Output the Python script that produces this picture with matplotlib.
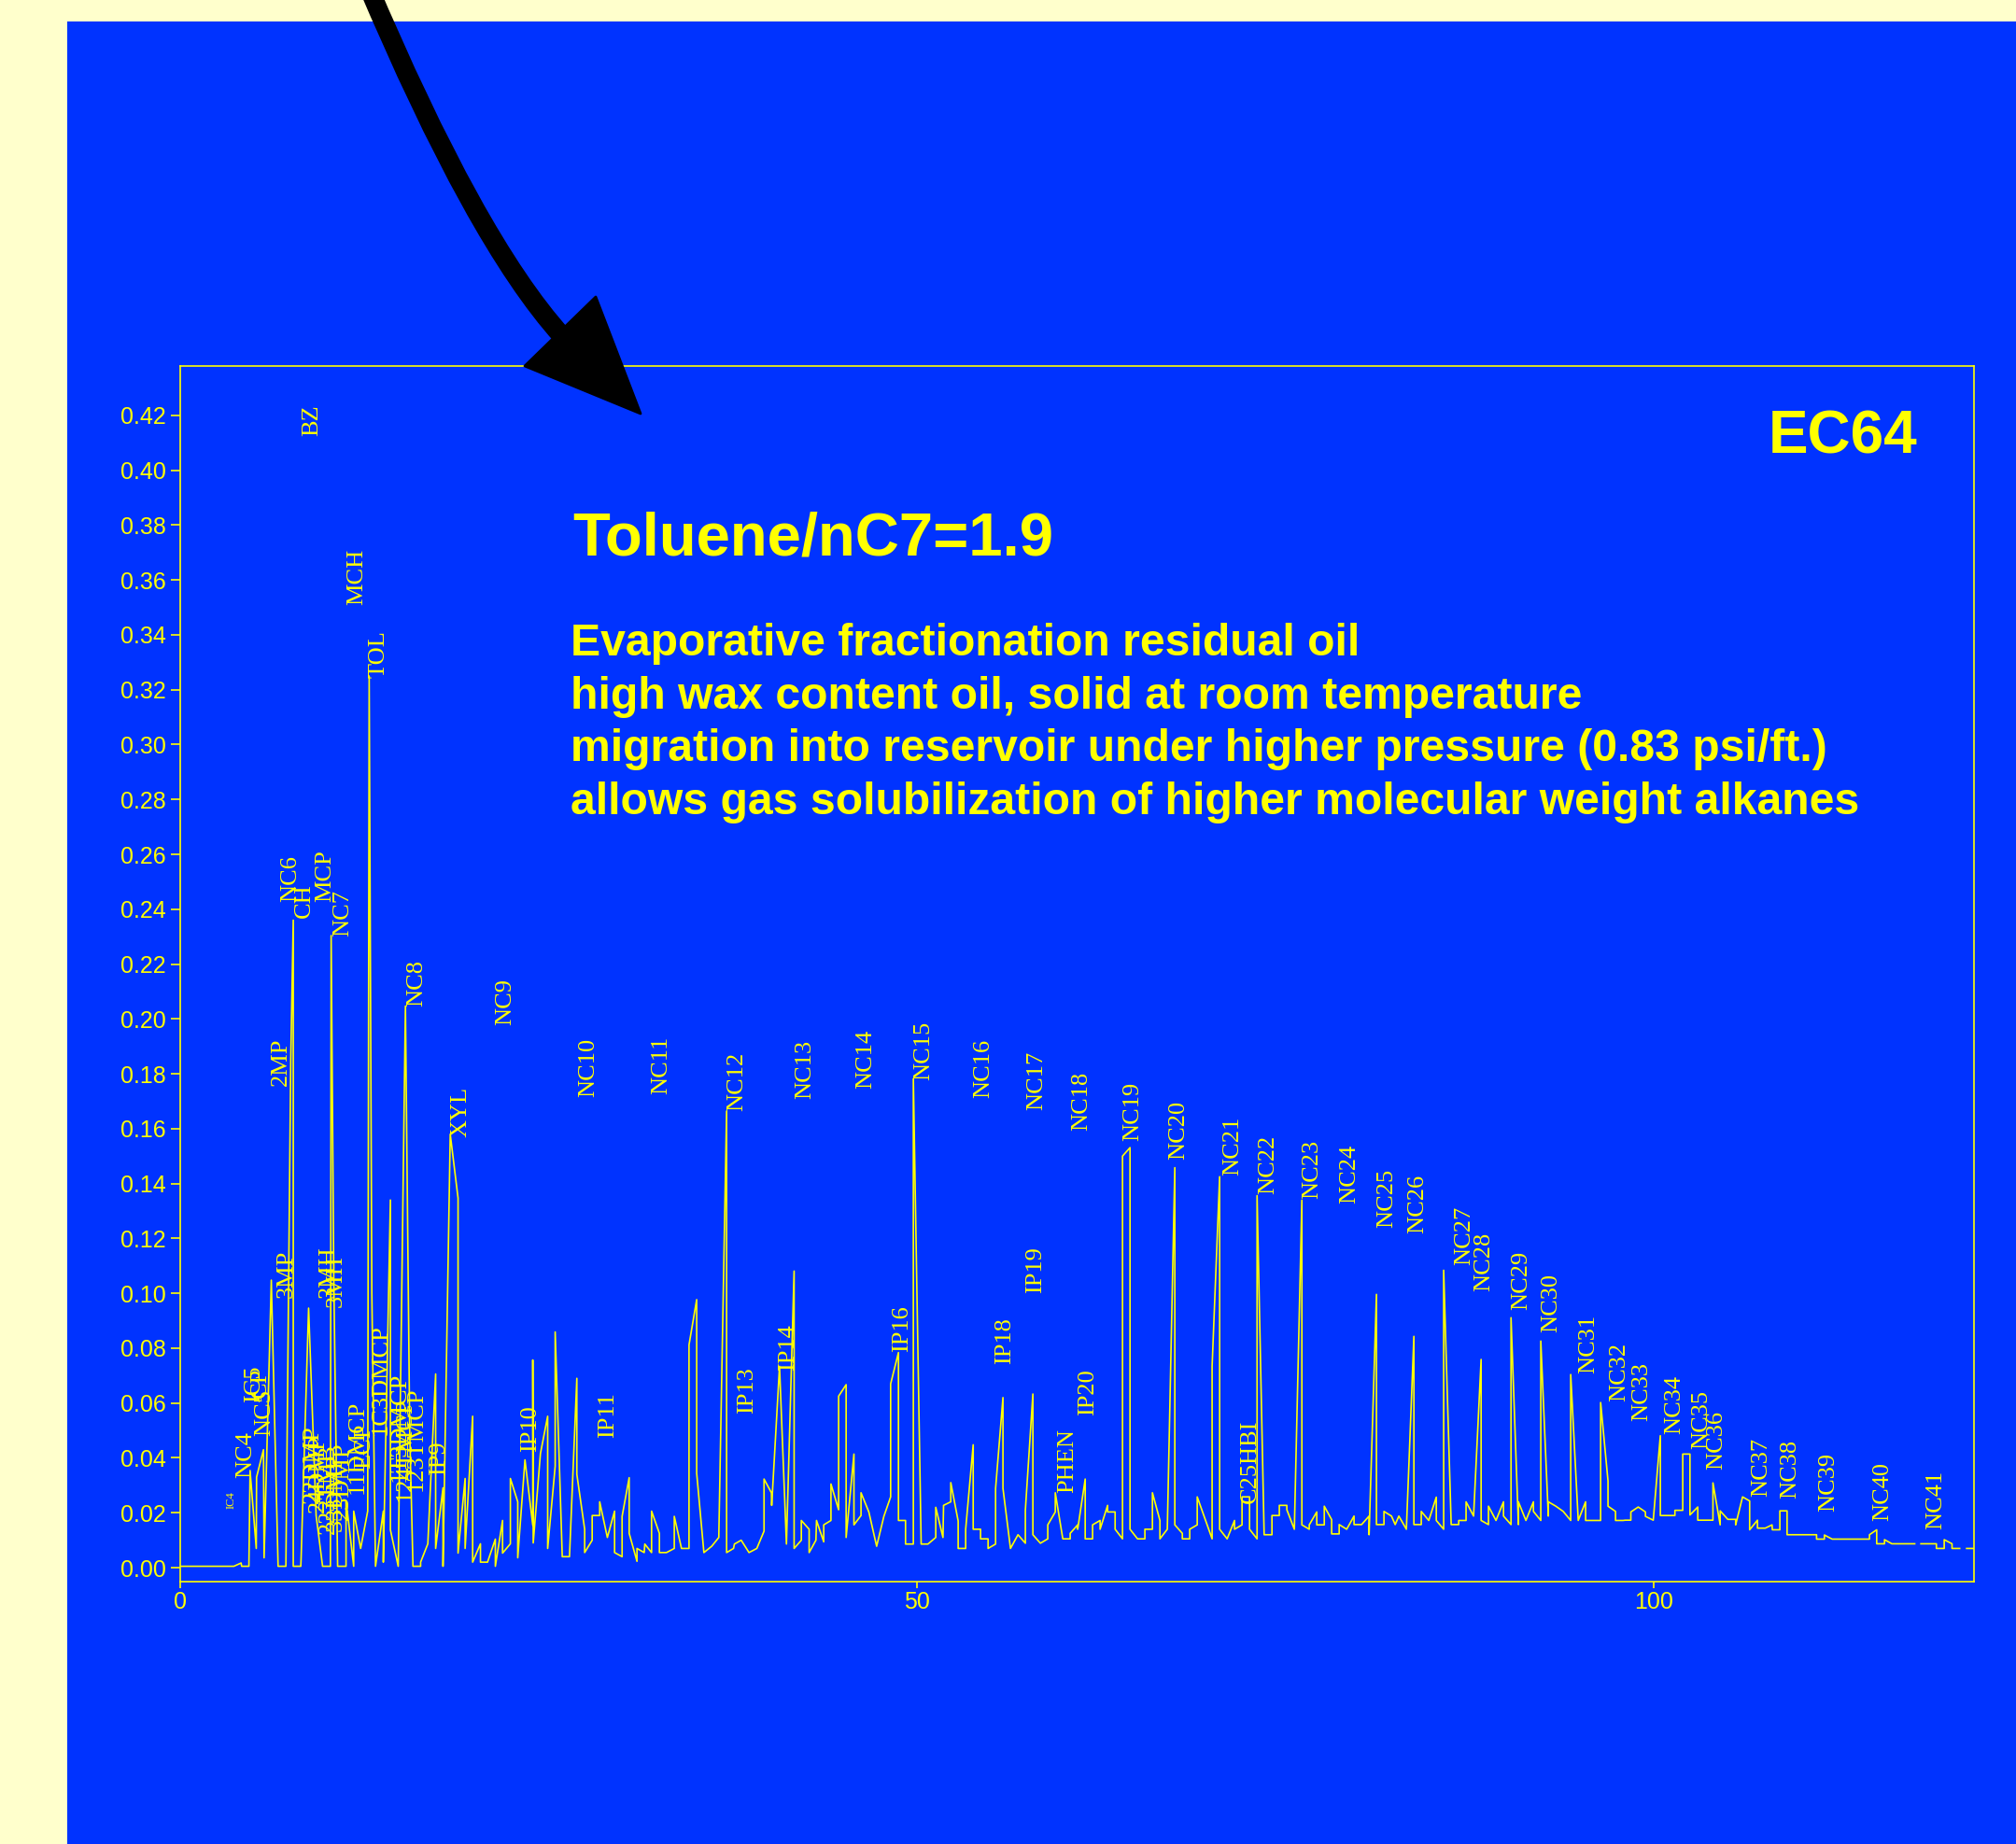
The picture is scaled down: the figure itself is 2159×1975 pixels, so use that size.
import numpy as np
import matplotlib
matplotlib.use("Agg")
import matplotlib.pyplot as plt
from matplotlib.patches import Rectangle, PathPatch, Polygon
from matplotlib.path import Path
from matplotlib.ticker import FormatStrFormatter

# chromatogram trace (retention time, relative abundance); nan = gap in the trace
trace_x = [
    0.0, 3.64, 4.13, 4.17, 4.66, 4.74, 5.16, 5.18, 5.65, 5.69, 6.18, 6.64, 7.17, 7.50, 7.67, 7.67,
    8.18, 8.20, 8.71, 9.22, 9.66, 10.19, 10.24, 10.42, 10.68, 11.25, 11.25, 11.35, 11.77, 11.77,
    12.24, 12.72, 12.82, 13.00, 13.25, 13.78, 13.78, 14.26, 14.26, 14.79, 15.28, 15.57, 15.79,
    16.31, 16.31, 16.80, 17.33, 17.33, 17.83, 17.83, 18.32, 18.85, 18.85, 19.33, 19.33, 19.84,
    19.84, 20.37, 20.37, 20.85, 21.38, 21.38, 21.87, 21.87, 22.40, 22.40, 22.90, 22.90, 23.39,
    23.92, 23.92, 23.95, 24.44, 24.93, 24.93, 25.44, 25.44, 25.92, 26.41, 26.91, 26.91, 27.44,
    27.44, 27.95, 27.95, 28.46, 28.46, 28.98, 29.47, 29.47, 29.98, 29.98, 30.46, 30.46, 30.99,
    30.99, 31.48, 31.52, 31.98, 31.98, 32.51, 32.51, 32.99, 33.52, 33.52, 34.01, 34.52, 34.52,
    35.04, 35.04, 35.53, 36.06, 36.54, 37.07, 37.07, 37.54, 37.60, 38.06, 38.59, 39.12, 39.61,
    39.61, 40.11, 40.13, 40.66, 41.13, 41.65, 41.65, 42.14, 42.14, 42.67, 42.67, 43.13, 43.17,
    43.66, 43.66, 44.15, 44.15, 44.67, 44.67, 45.18, 45.18, 45.71, 45.71, 46.19, 46.19, 46.72,
    47.25, 47.74, 48.20, 48.20, 48.73, 48.73, 49.21, 49.21, 49.74, 49.74, 50.27, 50.73, 51.26,
    51.26, 51.75, 51.79, 52.28, 52.28, 52.78, 52.78, 53.29, 53.29, 53.80, 53.80, 54.30, 54.30,
    54.81, 54.81, 55.32, 55.32, 55.82, 55.82, 56.33, 56.84, 57.34, 57.34, 57.85, 57.85, 58.36,
    58.86, 58.86, 59.37, 59.37, 59.88, 60.38, 60.38, 60.89, 60.89, 61.40, 61.40, 61.90, 61.90,
    62.41, 62.41, 62.92, 62.92, 63.43, 63.43, 63.93, 63.93, 64.44, 64.44, 64.95, 65.45, 65.45,
    65.96, 65.96, 66.47, 66.47, 66.97, 67.48, 67.48, 67.99, 67.99, 68.49, 68.49, 69.00, 69.00,
    70.01, 70.01, 70.52, 70.52, 71.03, 71.53, 71.53, 72.04, 72.04, 72.55, 72.55, 73.06, 73.06,
    73.54, 74.07, 74.07, 74.57, 74.57, 75.08, 75.08, 75.59, 76.10, 76.10, 76.60, 76.60, 77.11,
    77.11, 77.62, 77.62, 78.12, 78.12, 78.63, 78.63, 79.14, 79.64, 79.64, 80.15, 80.66, 80.66,
    81.16, 81.16, 81.67, 81.67, 82.18, 82.43, 82.68, 83.19, 83.70, 83.70, 84.20, 84.20, 84.71,
    85.22, 85.22, 85.72, 85.72, 86.23, 86.74, 86.74, 87.24, 87.24, 87.75, 88.26, 88.26, 88.76,
    88.76, 89.27, 89.78, 89.78, 90.29, 90.29, 90.79, 90.79, 91.30, 91.81, 91.81, 92.31, 92.31,
    92.82, 92.82, 93.33, 93.83, 94.34, 94.34, 94.85, 95.35, 95.35, 95.86, 96.37, 96.37, 96.87,
    96.87, 97.38, 97.38, 97.89, 98.04, 98.42, 98.42, 98.92, 99.41, 99.41, 99.94, 100.42, 100.42,
    101.41, 101.41, 101.94, 101.94, 102.43, 102.43, 102.96, 102.96, 103.48, 103.99, 103.99,
    104.48, 104.48, 105.00, 105.53, 105.53, 106.00, 106.48, 106.48, 107.01, 107.01, 107.54,
    108.00, 108.02, 108.53, 108.53, 109.02, 109.02, 111.02, 111.02, 111.55, 111.55, 112.08,
    114.61, 114.61, 115.10, 115.10, 115.63, 115.63, 116.13, 117.68, np.nan, 118.10, 119.15,
    119.15, 119.68, 119.68, 120.21, 120.21, 120.73, np.nan, 121.20, 121.73,
]
trace_y = [
    0.0005, 0.0005, 0.0017, 0.0005, 0.0005, 0.0354, 0.0070, 0.0330, 0.0430, 0.0036, 0.1048, 0.0005,
    0.0005, 0.1850, 0.2360, 0.0005, 0.0005, 0.0030, 0.0946, 0.0190, 0.0005, 0.0005, 0.2304, 0.1050,
    0.0005, 0.0005, 0.0240, 0.0200, 0.0005, 0.0206, 0.0070, 0.0206, 0.3250, 0.1000, 0.0005, 0.0206,
    0.0020, 0.1340, 0.0138, 0.0005, 0.2047, 0.0500, 0.0005, 0.0005, 0.0020, 0.0087, 0.0706, 0.0070,
    0.0291, 0.0005, 0.1580, 0.1347, 0.0053, 0.0325, 0.0070, 0.0552, 0.0020, 0.0087, 0.0020, 0.0020,
    0.0104, 0.0005, 0.0172, 0.0053, 0.0087, 0.0325, 0.0240, 0.0036, 0.0393, 0.0155, 0.0757, 0.0090,
    0.0416, 0.0552, 0.0070, 0.0370, 0.0859, 0.0040, 0.0040, 0.0690, 0.0340, 0.0140, 0.0055, 0.0100,
    0.0190, 0.0190, 0.0240, 0.0110, 0.0206, 0.0055, 0.0040, 0.0187, 0.0328, 0.0125, 0.0023, 0.0070,
    0.0055, 0.0086, 0.0055, 0.0206, 0.0125, 0.0055, 0.0055, 0.0070, 0.0187, 0.0070, 0.0070, 0.0812,
    0.0977, 0.0344, 0.0055, 0.0078, 0.0110, 0.1664, 0.0055, 0.0070, 0.0086, 0.0100, 0.0055, 0.0070,
    0.0133, 0.0323, 0.0273, 0.0227, 0.0734, 0.0086, 0.1081, 0.0070, 0.0100, 0.0172, 0.0140, 0.0055,
    0.0100, 0.0172, 0.0094, 0.0156, 0.0172, 0.0305, 0.0211, 0.0625, 0.0667, 0.0110, 0.0414, 0.0156,
    0.0190, 0.0273, 0.0203, 0.0078, 0.0187, 0.0258, 0.0670, 0.0784, 0.0172, 0.0172, 0.0086, 0.0086,
    0.1782, 0.0086, 0.0086, 0.0110, 0.0220, 0.0110, 0.0227, 0.0240, 0.0310, 0.0170, 0.0070, 0.0070,
    0.0140, 0.0448, 0.0140, 0.0140, 0.0105, 0.0105, 0.0070, 0.0086, 0.0289, 0.0620, 0.0289, 0.0070,
    0.0120, 0.0089, 0.0210, 0.0633, 0.0120, 0.0089, 0.0105, 0.0156, 0.0203, 0.0273, 0.0105, 0.0105,
    0.0125, 0.0156, 0.0140, 0.0323, 0.0105, 0.0105, 0.0156, 0.0172, 0.0140, 0.0227, 0.0203, 0.0203,
    0.0140, 0.0105, 0.1500, 0.1531, 0.0140, 0.0105, 0.0105, 0.0140, 0.0140, 0.0273, 0.0172, 0.0105,
    0.0140, 0.1458, 0.0156, 0.0125, 0.0105, 0.0105, 0.0140, 0.0156, 0.0258, 0.0105, 0.0734, 0.1425,
    0.0140, 0.0105, 0.0172, 0.0140, 0.0156, 0.0258, 0.0258, 0.0140, 0.0105, 0.1356, 0.0120, 0.0120,
    0.0190, 0.0190, 0.0227, 0.0227, 0.0211, 0.0140, 0.1339, 0.0156, 0.0140, 0.0156, 0.0203, 0.0156,
    0.0156, 0.0224, 0.0175, 0.0123, 0.0123, 0.0157, 0.0140, 0.0188, 0.0157, 0.0157, 0.0188, 0.0120,
    0.0996, 0.0157, 0.0157, 0.0205, 0.0188, 0.0157, 0.0188, 0.0140, 0.0843, 0.0157, 0.0157, 0.0205,
    0.0172, 0.0257, 0.0172, 0.0140, 0.1084, 0.0157, 0.0157, 0.0172, 0.0172, 0.0240, 0.0188, 0.0759,
    0.0172, 0.0157, 0.0224, 0.0172, 0.0240, 0.0188, 0.0157, 0.0911, 0.0157, 0.0240, 0.0172, 0.0240,
    0.0205, 0.0172, 0.0826, 0.0188, 0.0240, 0.0224, 0.0205, 0.0172, 0.0704, 0.0172, 0.0240, 0.0172,
    0.0172, 0.0172, 0.0602, 0.0316, 0.0224, 0.0205, 0.0172, 0.0172, 0.0173, 0.0173, 0.0203, 0.0221,
    0.0203, 0.0187, 0.0173, 0.0481, 0.0190, 0.0190, 0.0209, 0.0209, 0.0414, 0.0414, 0.0192, 0.0221,
    0.0173, 0.0173, 0.0173, 0.0309, 0.0156, 0.0207, 0.0176, 0.0176, 0.0156, 0.0258, 0.0243, 0.0138,
    0.0173, 0.0144, 0.0144, 0.0156, 0.0138, 0.0138, 0.0207, 0.0207, 0.0120, 0.0120, 0.0104, 0.0104,
    0.0119, 0.0104, 0.0104, 0.0120, 0.0138, 0.0087, 0.0087, 0.0102, 0.0087, 0.0087, np.nan, 0.0087,
    0.0087, 0.0070, 0.0070, 0.0102, 0.0087, 0.0070, 0.0070, np.nan, 0.0070, 0.0070,
]

# peak labels
peak_names = [
    "IC4", "NC4", "IC5", "CP", "NC5", "2MP", "3MP", "NC6", "CH", "BZ", "MCP", "22DMP", "24DMP",
    "223TMB", "3MH", "3MH", "33DMP", "23DMP", "NC7", "MCH", "11DMCP", "ECP", "TOL", "1C3DMCP",
    "1T3DMCP", "124TMCP", "123TMCP", "NC8", "IP9", "XYL", "NC9", "IP10", "NC10", "IP11", "NC11",
    "NC12", "IP13", "IP14", "NC13", "NC14", "IP16", "NC15", "NC16", "IP18", "NC17", "IP19",
    "PHEN", "NC18", "IP20", "NC19", "NC20", "NC21", "C25HBI", "NC22", "NC23", "NC24", "NC25",
    "NC26", "NC27", "NC28", "NC29", "NC30", "NC31", "NC32", "NC33", "NC34", "NC35", "NC36",
    "NC37", "NC38", "NC39", "NC40", "NC41",
]
peak_x = [
    3.47, 4.45, 5.02, 5.42, 5.73, 6.81, 7.23, 7.51, 8.44, 8.96, 9.83, 8.99, 9.39,
    10.08, 10.08, 10.57, 10.57, 10.99, 11.04, 11.97, 12.03, 12.51, 13.45, 13.57,
    14.84, 15.26, 16.00, 16.06, 17.58, 19.06, 22.06, 23.77, 27.67, 29.03, 32.64,
    37.79, 38.49, 41.23, 42.39, 46.51, 49.00, 50.42, 54.47, 55.97, 58.08, 58.02,
    60.20, 61.12, 61.57, 64.63, 67.73, 71.43, 72.59, 73.79, 76.81, 79.35, 81.88,
    83.93, 87.12, 88.47, 91.00, 93.03, 95.57, 97.61, 99.13, 101.35, 103.21, 104.20,
    107.27, 109.23, 111.80, 115.50, 119.09,
]
peak_y = [
    0.0214, 0.0326, 0.0603, 0.0620, 0.0480, 0.1756, 0.0983, 0.2425, 0.2369, 0.4125, 0.2425, 0.0235, 0.0200,
    0.0122, 0.0983, 0.0950, 0.0133, 0.0173, 0.2300, 0.3510, 0.0269, 0.0360, 0.3245, 0.0484,
    0.0314, 0.0241, 0.0280, 0.2047, 0.0337, 0.1570, 0.1976, 0.0422, 0.1716, 0.0473, 0.1727,
    0.1664, 0.0563, 0.0719, 0.1707, 0.1747, 0.0785, 0.1777, 0.1711, 0.0743, 0.1669, 0.1001,
    0.0274, 0.1594, 0.0555, 0.1555, 0.1488, 0.1430, 0.0235, 0.1360, 0.1344, 0.1329, 0.1238,
    0.1217, 0.1104, 0.1006, 0.0938, 0.0856, 0.0709, 0.0605, 0.0535, 0.0488, 0.0433, 0.0357,
    0.0260, 0.0252, 0.0203, 0.0169, 0.0138,
]

notes = [
    "Evaporative fractionation residual oil",
    "high wax content oil, solid at room temperature",
    "migration into reservoir under higher pressure (0.83 psi/ft.)",
    "allows gas solubilization of higher molecular weight alkanes",
]

W, H = 2159, 1975
BLUE = "#0033FF"
YEL = "#FFFF00"


def fp(px, py):
    # pixel position (from top-left) -> figure fraction
    return (px / W, 1 - py / H)


fig = plt.figure(figsize=(W / 100, H / 100), dpi=100, facecolor="#FFFFCC")
fig.add_artist(Rectangle((72 / W, 0), 1 - 72 / W, 1 - 23 / H, transform=fig.transFigure,
                         facecolor=BLUE, edgecolor="none", zorder=-5))

ax = fig.add_axes([193 / W, 1 - 1694 / H, (2114 - 193) / W, (1694 - 392) / H])
ax.set_facecolor(BLUE)
ax.plot(trace_x, trace_y, color=YEL, lw=1.2)
ax.set_xlim(0, 121.7)
ax.set_ylim(-0.0051, 0.438)
ax.set_yticks(np.arange(0, 0.421, 0.02))
ax.yaxis.set_major_formatter(FormatStrFormatter("%.2f"))
ax.set_xticks([0, 50, 100])
for s in ax.spines.values():
    s.set_color(YEL)
    s.set_linewidth(1.2)
ax.tick_params(axis="y", colors=YEL, length=7, width=1.2, pad=4, labelsize=18)
ax.tick_params(axis="x", colors=YEL, length=5, width=1.2, pad=2, labelsize=18)
for lab in ax.get_xticklabels() + ax.get_yticklabels():
    lab.set_fontfamily("Liberation Sans")

for name, x, y in zip(peak_names, peak_x, peak_y):
    ax.text(x, y, name, rotation=90, ha="center", va="bottom", color=YEL,
            fontsize=9 if name == "IC4" else 19, fontfamily="Liberation Serif")

fig.text(*fp(2054, 485), "EC64", ha="right", va="baseline", color=YEL,
         fontsize=46, fontweight="bold", fontfamily="Liberation Sans")
fig.text(*fp(613, 595), "Toluene/nC7=1.9", ha="left", va="baseline", color=YEL,
         fontsize=47, fontweight="bold", fontfamily="Liberation Sans")
for i, line in enumerate(notes):
    fig.text(*fp(611, 702 + 56.7 * i), line, ha="left", va="baseline", color=YEL,
             fontsize=34.7, fontweight="bold", fontfamily="Liberation Sans")

# curved black arrow pointing into the plot
shaft = Path([fp(392, -20), fp(509, 257), fp(602, 360)], [Path.MOVETO, Path.CURVE3, Path.CURVE3])
fig.add_artist(PathPatch(shaft, transform=fig.transFigure, facecolor="none", edgecolor="black",
                         lw=15, capstyle="butt", zorder=5))
fig.add_artist(Polygon([fp(686, 443), fp(638, 318), fp(562, 392)], closed=True,
                       transform=fig.transFigure, facecolor="black", edgecolor="black",
                       lw=2, joinstyle="round", zorder=6))

fig.savefig("out.png", dpi=100, facecolor=fig.get_facecolor())
